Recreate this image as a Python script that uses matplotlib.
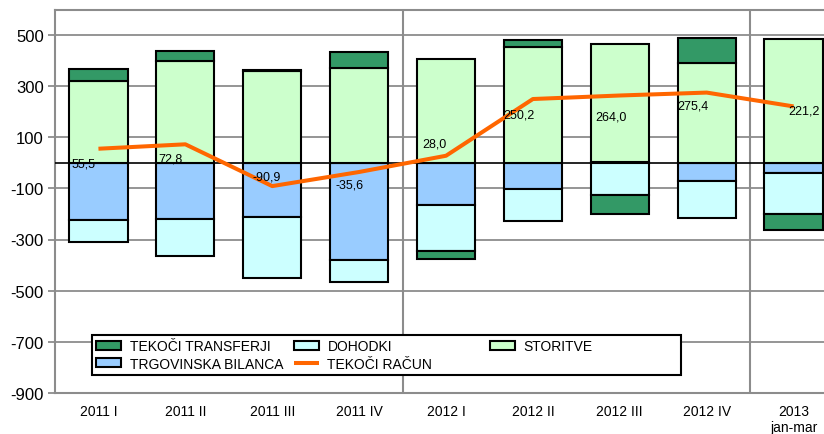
import matplotlib
matplotlib.use("Agg")
import matplotlib.pyplot as plt
from matplotlib.patches import Rectangle
import numpy as np

plt.rcParams['font.family'] = ['Liberation Sans', 'DejaVu Sans']
plt.rcParams['axes.unicode_minus'] = False

# quarters
categories = ['2011 I', '2011 II', '2011 III', '2011 IV', '2012 I',
              '2012 II', '2012 III', '2012 IV', '2013\njan-mar']

# series values (mio EUR)
trgovinska = [-223, -218, -210, -382, -163, -104, 5, -69, -40]
dohodki = [-87, -145, -240, -84, -183, -125, -126, -146, -162]
storitve = [320, 400, 358, 372, 406, 452, 462, 390, 486]
transferji = [49, 37, 4, 63, -30, 31, -76, 101, -60]
tekoci_racun = [55.5, 72.8, -90.9, -35.6, 28.0, 250.2, 264.0, 275.4, 221.2]

# label offsets in pixels (dx, dy) for the current account labels
label_offsets = [(-15, -15), (-15, -14), (-6, 10), (-10, -13), (-12, 12),
                 (-14, -15), (-9, -21), (-14, -13), (10, -4)]

c_transf = '#339966'
c_trg = '#99CCFF'
c_doh = '#CCFFFF'
c_stor = '#CCFFCC'
c_line = '#FF6600'
grid_c = '#8c8c8c'

fig = plt.figure(figsize=(8.24, 4.35), dpi=100)
ax = fig.add_axes([55 / 824, 41.3 / 435, (824 - 55) / 824, 383 / 435])

x = np.arange(len(categories))
w = 0.67
edge = dict(edgecolor='black', linewidth=1.5, zorder=3)

# stack positives upward and negatives downward in series order
pos = np.zeros(len(x))
neg = np.zeros(len(x))
handles = {}
for name, vals, col in [('TRGOVINSKA BILANCA', trgovinska, c_trg),
                        ('DOHODKI', dohodki, c_doh),
                        ('STORITVE', storitve, c_stor),
                        ('TEKOČI TRANSFERJI', transferji, c_transf)]:
    vals = np.array(vals, dtype=float)
    bottom = np.where(vals >= 0, pos, neg)
    b = ax.bar(x, vals, w, bottom=bottom, color=col, label=name, **edge)
    handles[name] = b
    pos = np.where(vals >= 0, pos + vals, pos)
    neg = np.where(vals < 0, neg + vals, neg)

ln, = ax.plot(x, tekoci_racun, color=c_line, linewidth=2.9, zorder=5,
              label='TEKOČI RAČUN', solid_capstyle='butt')

for xi, v, (dx, dy) in zip(x, tekoci_racun, label_offsets):
    ax.annotate(f'{v:.1f}'.replace('.', ','), (xi, v), xytext=(dx, dy),
                textcoords='offset pixels', ha='center', va='center',
                fontsize=9, zorder=6)

ax.set_xlim(-0.5, 8.35)
ax.set_ylim(-900, 600)
ax.set_yticks(np.arange(-900, 600, 200))
ax.yaxis.grid(True, color=grid_c, linewidth=1.3, zorder=0)
ax.set_axisbelow(True)
ax.axhline(0, color='black', linewidth=1.2, zorder=4)
for sep in [3.5, 7.5]:
    ax.axvline(sep, color=grid_c, linewidth=1.5, zorder=1)

for s in ['left', 'bottom', 'top']:
    ax.spines[s].set_color(grid_c)
    ax.spines[s].set_linewidth(1.5)
ax.spines['right'].set_visible(False)

ax.set_xticks(x)
ax.set_xticklabels(categories, fontsize=10)
ax.tick_params(axis='x', length=0, pad=8)
ax.tick_params(axis='y', labelsize=12, color=grid_c, width=1.3, length=5, pad=3)

# legend: white box with two frameless legends inside
box = Rectangle((92 / 824, 1 - 376 / 435), (681 - 92) / 824, 40 / 435,
                transform=fig.transFigure, facecolor='white',
                edgecolor='black', linewidth=1.5, zorder=9, clip_on=False)
ax.add_patch(box)

leg_kw = dict(loc='upper left', bbox_transform=fig.transFigure, fontsize=10,
              frameon=False, handlelength=1.8, handleheight=0.6,
              handletextpad=0.6, labelspacing=0.25, borderpad=0.3,
              borderaxespad=0)
first = [handles['TEKOČI TRANSFERJI'], handles['TRGOVINSKA BILANCA'],
         handles['DOHODKI'], ln]
leg1 = ax.legend(handles=first, labels=[h.get_label() for h in first],
                 ncol=2, columnspacing=0.8,
                 bbox_to_anchor=(92 / 824, 1 - 336 / 435), **leg_kw)
leg1.set_zorder(10)
ax.add_artist(leg1)
leg2 = ax.legend(handles=[handles['STORITVE']], labels=['STORITVE'],
                 bbox_to_anchor=(486 / 824, 1 - 336 / 435), **leg_kw)
leg2.set_zorder(10)

fig.savefig('out.png', dpi=100)
